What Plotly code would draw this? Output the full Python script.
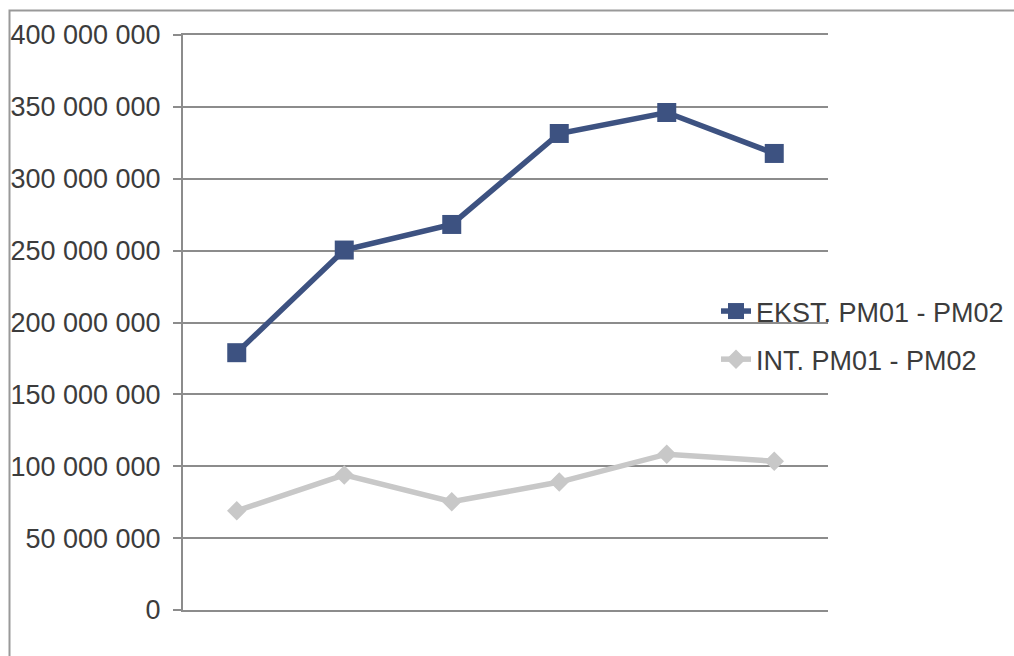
import plotly.graph_objects as go

categories = ["1", "2", "3", "4", "5", "6"]
ekst_values = [179.0e6, 250.4e6, 268.2e6, 331.5e6, 346.1e6, 317.6e6]
int_values = [69.0e6, 94.0e6, 75.3e6, 89.0e6, 108.4e6, 103.5e6]
ekst_name = "EKST. PM01 - PM02"
int_name = "INT. PM01 - PM02"
y_tick_values = [0, 50e6, 100e6, 150e6, 200e6, 250e6, 300e6, 350e6, 400e6]
y_tick_labels = ["0", "50 000 000", "100 000 000", "150 000 000", "200 000 000",
                 "250 000 000", "300 000 000", "350 000 000", "400 000 000"]

W, H = 1014, 656
L, R, T, B = 183, 1014 - 828, 35, 656 - 610
pw, ph = W - L - R, H - T - B

def px_x(x):
    return (x - L) / pw

def px_y(y):
    return (H - B - y) / ph

grid_col = "#8c8c8c"
text_col = "#3c3c3c"

fig = go.Figure()
fig.add_trace(go.Scatter(
    x=list(range(len(categories))), y=ekst_values, name=ekst_name,
    legendgroup="a", mode="lines+markers",
    line=dict(color="#3d5281", width=5.5),
    marker=dict(symbol="square", size=19, color="#3d5281"),
))
fig.add_trace(go.Scatter(
    x=list(range(len(categories))), y=int_values, name=int_name,
    legendgroup="b", mode="lines+markers",
    line=dict(color="#c8c8c8", width=5.5),
    marker=dict(symbol="diamond", size=15, color="#c8c8c8"),
))

fig.update_layout(
    width=W, height=H,
    margin=dict(l=L, r=R, t=T, b=B, pad=0, autoexpand=False),
    paper_bgcolor="white", plot_bgcolor="white",
    font=dict(family="Liberation Sans, Arial, sans-serif", size=27, color=text_col),
    showlegend=True,
    legend=dict(x=px_x(716), y=px_y(287), xanchor="left", yanchor="top",
                bgcolor="rgba(0,0,0,0)", font=dict(size=27, color=text_col),
                tracegroupgap=10, itemsizing="trace"),
    xaxis=dict(range=[-0.5, len(categories) - 0.5], showticklabels=False,
               showgrid=False, zeroline=False, showline=True, mirror=True,
               linecolor=grid_col, linewidth=2, ticks=""),
    yaxis=dict(range=[0, 400e6], tickvals=y_tick_values, ticktext=y_tick_labels,
               showgrid=True, gridcolor=grid_col, gridwidth=2,
               zeroline=False, showline=True, linecolor=grid_col, linewidth=2,
               ticks="outside", ticklen=8, tickcolor=grid_col, tickwidth=2,
               ticklabelstandoff=7, tickfont=dict(size=27, color=text_col)),
    shapes=[dict(type="rect", xref="paper", yref="paper",
                 x0=px_x(9.5), x1=px_x(1030), y0=px_y(670), y1=px_y(10.5),
                 line=dict(color="#999999", width=2), layer="below")],
)

fig.write_html("out.html")
